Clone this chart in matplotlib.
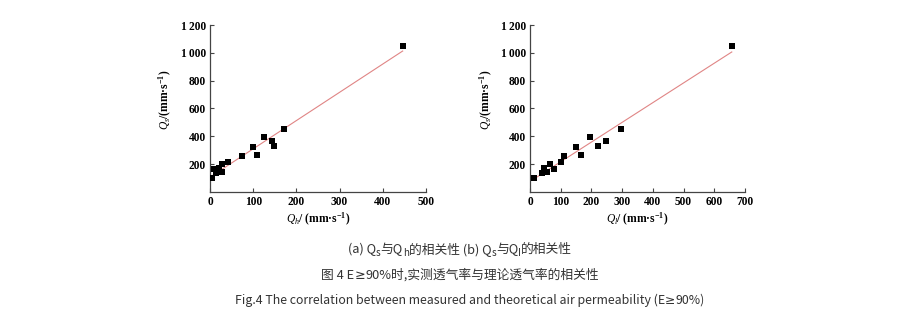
import numpy as np
import matplotlib
matplotlib.use('Agg')
import matplotlib.pyplot as plt

# measured Qs vs theoretical Qh (a) and Ql (b), mm/s
qs = [99, 135, 144, 147, 166, 173, 200, 216, 257, 267, 322, 332, 368, 397, 452, 1048]
qh = [5, 13, 28, 17, 9, 21, 28, 42, 74, 109, 100, 149, 144, 125, 172, 446]
ql = [12, 38, 45, 54, 78, 47, 65, 100, 111, 167, 150, 220, 246, 195, 296, 657]

yticks = [200, 400, 600, 800, 1000, 1200]
ytick_labels = ['200', '400', '600', '800', '1\u2009000', '1\u2009200']

plt.rcParams['mathtext.fontset'] = 'custom'
plt.rcParams['mathtext.rm'] = 'Liberation Serif:bold'
plt.rcParams['mathtext.bf'] = 'Liberation Serif:bold'
plt.rcParams['mathtext.it'] = 'Liberation Serif:italic'
serif = ['Liberation Serif', 'DejaVu Serif']
cjk = ['Noto Sans CJK SC', 'DejaVu Sans']

fig = plt.figure(figsize=(9.18, 3.25), dpi=100)
W, H = 918, 325

def panel(x0, x1, xs, xmax, xlab):
    ax = fig.add_axes([x0 / W, (H - 192) / H, (x1 - x0) / W, (192 - 25) / H])
    ax.scatter(xs, qs, marker='s', s=13, color='black', zorder=3, linewidths=0)
    k, b = np.polyfit(xs, qs, 1)
    xx = np.array([min(xs), max(xs)])
    ax.plot(xx, k * xx + b, color='#e08585', lw=0.8, zorder=2)
    ax.set_xlim(0, xmax)
    ax.set_ylim(0, 1200)
    ax.set_xticks(range(0, xmax + 1, 100))
    ax.set_yticks(yticks)
    ax.set_yticklabels(ytick_labels)
    for s in ['top', 'right']:
        ax.spines[s].set_visible(False)
    for s in ['left', 'bottom']:
        ax.spines[s].set_linewidth(0.9)
        ax.spines[s].set_color('#444444')
    ax.tick_params(direction='in', length=3, width=0.8, pad=3, labelsize=8.3,
                   color='#444444')
    for t in ax.get_xticklabels() + ax.get_yticklabels():
        t.set_family(serif)
        t.set_weight('bold')
    ax.set_xlabel(xlab, fontsize=8.3, labelpad=2, family=serif, weight='bold')
    ax.set_ylabel(r'$Q_s$/(mm·s$^{-1}$)', fontsize=8.3, family=serif, weight='bold')
    ax.yaxis.set_label_coords(-0.165, 0.55)
    return ax

panel(210, 426, qh, 500, r'$Q_h$/ (mm·s$^{-1}$)')
panel(530, 745, ql, 700, r'$Q_l$/ (mm·s$^{-1}$)')

# caption lines, subscripts drawn as separate pieces
renderer = fig.canvas.get_renderer()

def line(pieces, cx, cy, size=9.2):
    objs = []
    for txt, sub, fam in pieces:
        fs = size * 0.78 if sub else size
        t = fig.text(0, 0, txt, fontsize=fs, family=fam or cjk, color='#333333',
                     va='baseline', ha='left')
        objs.append((t, sub))
    widths = [t.get_window_extent(renderer).width for t, _ in objs]
    x = cx - sum(widths) / 2
    for (t, sub), w in zip(objs, widths):
        t.set_position((x / W, (H - cy - (3 if sub else 0)) / H))
        x += w

dv = ['DejaVu Sans']
line([('(a) Q', 0, None), ('s', 1, None), ('与Q', 0, None), ('h', 1, None),
      ('的相关性 (b) Q', 0, None), ('s', 1, None), ('与Q', 0, None), ('l', 1, dv),
      ('的相关性', 0, None)], 460, 253)
line([('图 4 E', 0, None), ('≥', 0, dv), ('90%时,实测透气率与理论透气率的相关性', 0, None)],
     460, 279)
line([('Fig.4 The correlation between measured and theoretical air permeability (E', 0, None),
      ('≥', 0, dv), ('90%)', 0, None)], 470, 304, size=8.9)

fig.savefig('out.png', dpi=100)
